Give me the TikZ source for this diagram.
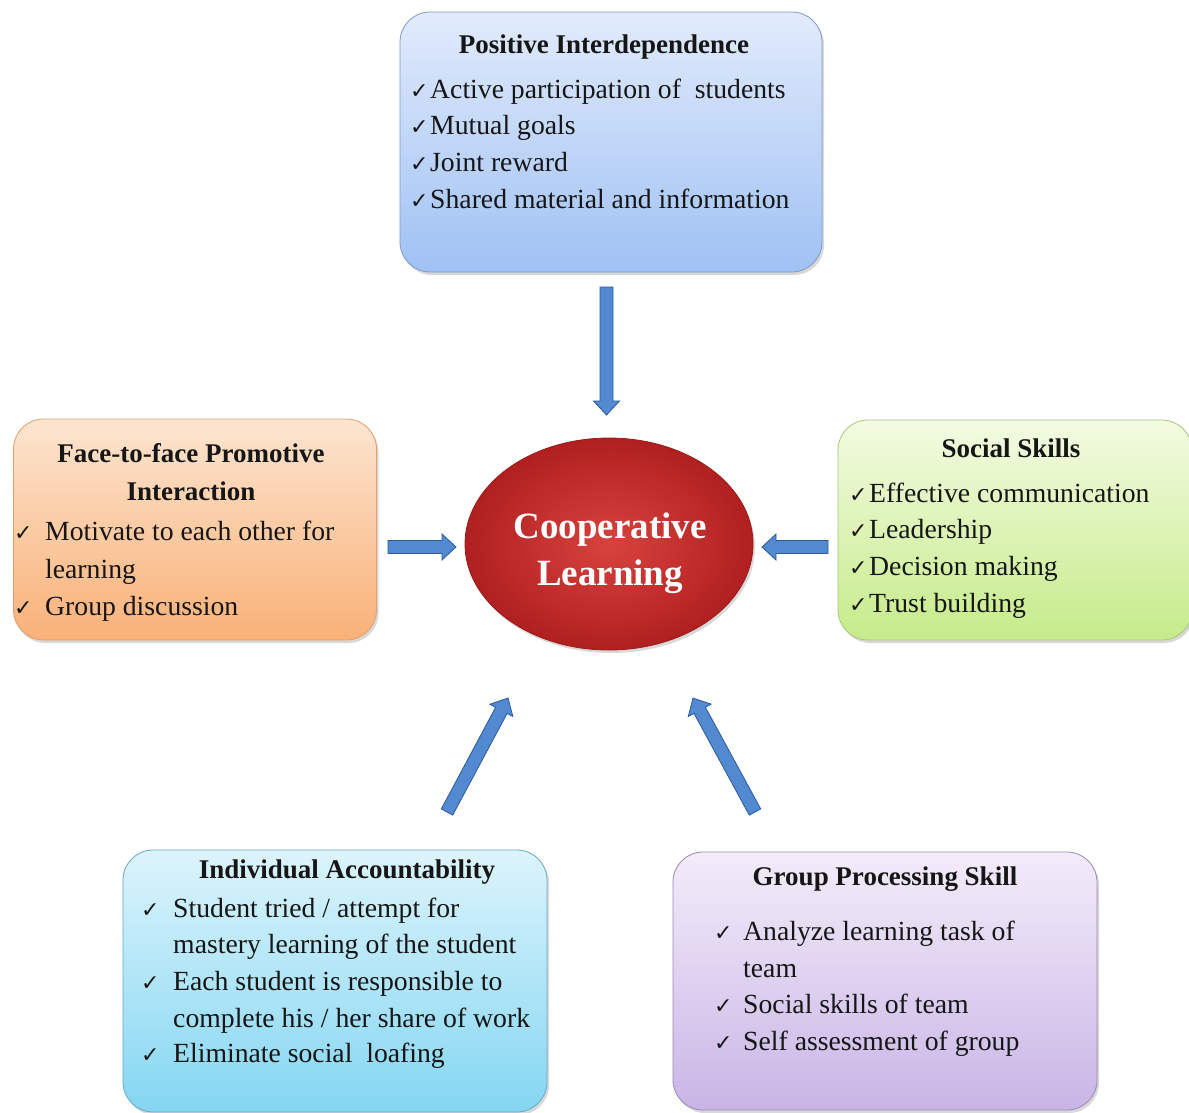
\documentclass[tikz,border=0pt]{standalone}
\usepackage{fontspec}
\setmainfont{Liberation Serif}
\newfontfamily\ckfont{DejaVu Sans}
\usetikzlibrary{calc,shapes.geometric,shadows}

\definecolor{txt}{HTML}{161616}
\definecolor{piTop}{HTML}{E2EBFC}\definecolor{piBot}{HTML}{9FC1F4}\definecolor{piLine}{HTML}{7E9CC9}
\definecolor{ffTop}{HTML}{FDE5D0}\definecolor{ffBot}{HTML}{F9B178}\definecolor{ffLine}{HTML}{DDA06E}
\definecolor{ssTop}{HTML}{F3FBE2}\definecolor{ssBot}{HTML}{C6EB8A}\definecolor{ssLine}{HTML}{A6C77A}
\definecolor{iaTop}{HTML}{DCF4FC}\definecolor{iaBot}{HTML}{84D6F2}\definecolor{iaLine}{HTML}{66A9C6}
\definecolor{gpTop}{HTML}{F3ECFA}\definecolor{gpBot}{HTML}{C9B5E6}\definecolor{gpLine}{HTML}{9A88B8}
\definecolor{clIn}{HTML}{D8423E}\definecolor{clOut}{HTML}{B02020}\definecolor{clLine}{HTML}{9A1A1A}
\definecolor{arFill}{HTML}{5289D0}\definecolor{arLine}{HTML}{2C5A96}

\tikzset{
  box/.style={rounded corners=30pt, line width=0.8pt,
    drop shadow={shadow xshift=2pt, shadow yshift=-3pt, opacity=0.3}},
  ttl/.style={font=\fontsize{27}{30}\selectfont\bfseries, text=txt, inner sep=0pt, anchor=base},
  itm/.style={font=\fontsize{27.7}{33}\selectfont, text=txt, inner sep=0pt, anchor=base west},
  ckm/.style={font=\ckfont\fontsize{22}{24}\selectfont, text=txt, inner sep=0pt, anchor=base west},
  ctr/.style={font=\fontsize{37}{40}\selectfont\bfseries, text=white, inner sep=0pt, anchor=base},
  blk/.style={fill=arFill, draw=arLine, line width=0.8pt, line join=miter},
}

\newcommand{\blkarrow}[2]{%
  \filldraw[blk] ($(#1)!6.5pt!90:(#2)$) -- ($(#2)!14pt!(#1)!6.5pt!90:(#2)$)
    -- ($(#2)!14pt!(#1)!13pt!90:(#2)$) -- (#2)
    -- ($(#2)!14pt!(#1)!13pt!-90:(#2)$) -- ($(#2)!14pt!(#1)!6.5pt!-90:(#2)$)
    -- ($(#1)!6.5pt!-90:(#2)$) -- cycle;}

\begin{document}
\begin{tikzpicture}[x=1pt,y=-1pt]
\useasboundingbox (0,0) rectangle (1189,1112);
\fill[white] (0,0) rectangle (1189,1112);

% boxes
\node[box, draw=piLine, top color=piTop, bottom color=piBot, minimum width=422pt, minimum height=260pt] (pi) at (611,142) {};
\node[box, draw=ffLine, top color=ffTop, bottom color=ffBot, minimum width=363pt, minimum height=221pt] (ff) at (195,529.5) {};
\node[box, draw=ssLine, top color=ssTop, bottom color=ssBot, minimum width=354pt, minimum height=220pt] (ss) at (1015,530) {};
\node[box, draw=iaLine, top color=iaTop, bottom color=iaBot, minimum width=424pt, minimum height=262pt] (ia) at (335,981) {};
\node[box, draw=gpLine, top color=gpTop, bottom color=gpBot, minimum width=424pt, minimum height=258pt] (gp) at (885,981) {};

% centre ellipse
\node[ellipse, draw=clLine, line width=0.8pt, inner color=clIn, outer color=clOut,
      minimum width=288pt, minimum height=212pt,
      drop shadow={shadow xshift=2pt, shadow yshift=-3pt, opacity=0.3}] (cl) at (609,544) {};
\node[ctr] (cl1) at (610,538) {Cooperative};
\node[ctr] (cl2) at (610,585) {Learning};

% Positive Interdependence
\node[ttl] (pit) at (604,53) {Positive Interdependence};
\foreach \t [count=\i from 0] in {Active participation of~ students, Mutual goals, Joint reward, Shared material and information} {
  \node[ckm] (pic\i) at (410,98+36.7*\i) {✓};
  \node[itm] (pix\i) at (430,98+36.7*\i) {\t};
}

% Face-to-face
\node[ttl] (fft1) at (191,462) {Face-to-face Promotive};
\node[ttl] (fft2) at (191,500) {Interaction};
\node[ckm] (ffc1) at (14,540) {✓};
\node[itm] (ffx1) at (45,540) {Motivate to each other for};
\node[itm] (ffx2) at (45,578) {learning};
\node[ckm] (ffc2) at (14,615) {✓};
\node[itm] (ffx3) at (45,615) {Group discussion};

% Social Skills
\node[ttl] (sst) at (1011,457) {Social Skills};
\foreach \t [count=\i from 0] in {Effective communication, Leadership, Decision making, Trust building} {
  \node[ckm] (ssc\i) at (849,502+36.7*\i) {✓};
  \node[itm] (ssx\i) at (869,502+36.7*\i) {\t};
}

% Individual Accountability
\node[ttl] (iat) at (347,878) {Individual Accountability};
\node[ckm] (iac1) at (141,917) {✓};
\node[itm] (iax1) at (173,917) {Student tried / attempt for};
\node[itm] (iax2) at (173,953) {mastery learning of the student};
\node[ckm] (iac2) at (141,990) {✓};
\node[itm] (iax3) at (173,990) {Each student is responsible to};
\node[itm] (iax4) at (173,1027) {complete his / her share of work};
\node[ckm] (iac3) at (141,1062) {✓};
\node[itm] (iax5) at (173,1062) {Eliminate social~ loafing};

% Group Processing Skill
\node[ttl] (gpt) at (885,885) {Group Processing Skill};
\node[ckm] (gpc1) at (714,940) {✓};
\node[itm] (gpx1) at (743,940) {Analyze learning task of};
\node[itm] (gpx2) at (743,977) {team};
\node[ckm] (gpc2) at (714,1013) {✓};
\node[itm] (gpx3) at (743,1013) {Social skills of team};
\node[ckm] (gpc3) at (714,1050) {✓};
\node[itm] (gpx4) at (743,1050) {Self assessment of group};

% arrow end points
\coordinate (a1s) at (606.5,287); \coordinate (a1e) at (606.5,415);
\coordinate (a2s) at (388,547);   \coordinate (a2e) at (456,547);
\coordinate (a3s) at (828,547);   \coordinate (a3e) at (762,547);
\coordinate (a4s) at (447,812);   \coordinate (a4e) at (508,698);
\coordinate (a5s) at (755,812);   \coordinate (a5e) at (693,698);

\blkarrow{a1s}{a1e}
\blkarrow{a2s}{a2e}
\blkarrow{a3s}{a3e}
\blkarrow{a4s}{a4e}
\blkarrow{a5s}{a5e}
\end{tikzpicture}
\end{document}
